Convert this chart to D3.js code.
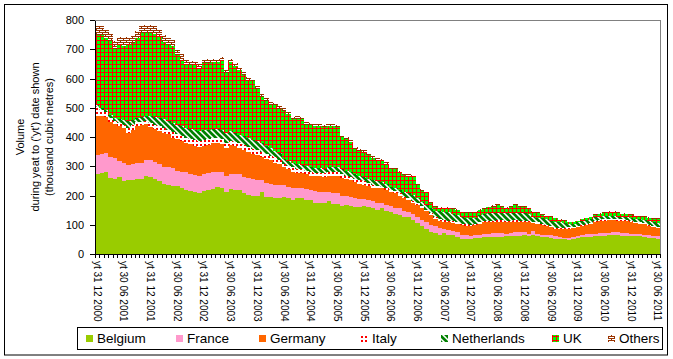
<!DOCTYPE html>
<html><head><meta charset="utf-8">
<script src="https://cdn.jsdelivr.net/npm/d3@7"></script>
<style>body{margin:0;background:#fff}svg text{font-family:"Liberation Sans",Arial,sans-serif;fill:#000}</style>
</head><body><svg id="c" width="673" height="359"></svg>
<script>
const seriesNames = ["Belgium","France","Germany","Italy","Netherlands","UK","Others"];
const belgium = [272,276,281,260,256,264,250,254,254,256,256,265,263,258,249,241,237,234,231,224,220,215,212,210,214,220,223,228,226,212,222,220,218,208,202,200,197,212,196,195,192,193,196,190,185,192,192,186,184,176,174,175,182,172,171,163,168,165,160,160,163,162,157,152,156,146,145,136,135,128,126,116,105,96,84,76,73,66,71,65,64,58,52,50,50,54,56,57,58,58,59,59,60,61,62,63,64,60,64,60,58,57,56,52,52,50,49,50,54,57,58,59,62,63,63,64,65,65,62,62,61,60,60,57,55,54,52];
const france = [66,65,65,73,72,54,61,51,54,56,56,57,57,58,57,58,59,59,54,57,60,59,58,58,58,56,57,54,55,53,52,52,54,54,58,58,57,40,48,45,44,44,40,38,40,34,33,36,34,38,38,38,30,38,38,37,29,31,30,28,25,24,23,24,19,20,19,22,21,18,16,20,23,20,24,24,22,24,13,17,16,16,14,14,13,10,10,11,12,14,14,14,10,10,14,13,11,8,15,8,7,8,8,8,7,6,6,7,8,9,9,9,8,9,9,9,9,9,9,9,9,9,8,9,9,9,9];
const germany = [135,132,124,119,115,118,121,109,116,125,129,121,113,110,116,114,114,105,107,105,100,101,100,98,98,98,98,98,96,97,98,96,90,93,88,84,84,81,82,80,76,69,60,62,57,52,51,50,50,52,53,51,54,58,57,60,59,56,56,52,48,46,46,48,49,52,49,52,44,44,42,40,40,42,38,32,25,24,26,26,27,30,34,33,33,34,38,40,40,38,38,38,40,39,35,34,35,40,27,36,35,31,28,26,26,30,32,31,30,30,32,34,38,40,42,42,41,40,43,42,40,37,36,36,32,30,29];
const italy = [31,21,14,14,13,12,9,18,16,13,11,10,15,16,16,17,15,20,18,18,18,18,20,20,19,18,17,16,17,18,16,16,16,17,18,18,17,17,16,16,18,16,12,12,14,14,14,12,12,12,11,12,14,14,14,14,12,12,12,12,12,12,11,10,6,6,6,6,7,6,6,6,7,7,6,8,6,6,6,6,6,6,4,4,4,4,4,4,4,4,4,4,4,4,4,4,4,4,4,4,4,4,4,4,4,4,4,4,4,4,4,4,4,4,4,4,4,4,4,4,4,4,4,4,4,4,4];
const netherlands = [6,6,8,10,10,12,16,23,18,15,18,19,24,28,28,30,30,30,31,32,32,34,34,36,35,33,31,30,31,32,32,30,30,31,30,30,30,28,28,28,22,22,18,16,14,14,14,16,16,16,17,16,16,17,18,16,16,16,14,14,16,14,16,16,17,14,11,10,13,17,20,20,15,13,15,16,22,26,28,28,25,24,24,23,22,22,24,26,26,26,26,25,25,25,25,25,25,25,18,16,18,18,16,20,19,15,13,12,12,12,13,14,14,12,11,11,11,10,9,9,10,11,11,11,12,12,12];
const uk = [240,248,247,251,236,257,255,263,262,272,284,284,285,283,278,266,260,263,241,227,219,218,224,214,228,229,231,229,237,207,235,229,222,208,199,200,180,159,153,147,156,153,164,161,152,157,157,142,145,144,143,143,143,138,135,110,110,104,88,86,85,81,75,71,73,70,61,63,60,56,58,63,45,39,46,18,13,12,13,14,16,17,15,16,18,21,20,17,19,22,25,21,19,20,26,23,20,21,16,17,11,12,15,14,8,7,5,4,4,6,6,6,7,9,10,13,14,13,10,10,11,10,9,10,11,12,13];
const others = [28,30,28,26,25,24,25,24,25,26,26,27,26,25,24,24,23,22,20,20,18,16,12,12,12,12,11,11,12,10,11,11,10,10,10,10,9,9,9,9,9,8,8,8,8,8,8,8,7,7,7,7,7,7,7,7,6,6,6,6,6,6,6,6,5,5,5,5,5,5,5,5,5,4,4,4,4,4,4,4,4,4,3,3,3,3,3,3,3,4,4,4,4,4,4,4,4,4,3,3,3,3,3,3,3,3,2,2,2,2,2,2,3,3,3,3,3,3,3,3,3,3,3,3,3,3,3];
const tickLabels = ["yt 31 12 2000","yt 30 06 2001","yt 31 12 2001","yt 30 06 2002","yt 31 12 2002","yt 30 06 2003","yt 31 12 2003","yt 30 06 2004","yt 31 12 2004","yt 30 06 2005","yt 31 12 2005","yt 30 06 2006","yt 31 12 2006","yt 30 06 2007","yt 31 12 2007","yt 30 06 2008","yt 31 12 2008","yt 30 06 2009","yt 31 12 2009","yt 30 06 2010","yt 31 12 2010","yt 30 06 2011"];
const yTicks = [0,100,200,300,400,500,600,700,800];
const yTitle = ["Volume","during yeat to ('yt') date shown","(thousand cubic metres)"];

const svg = d3.select("#c");
const L = 95, R = 660, T = 20, B = 254;
const n = belgium.length;
const x = d3.scaleBand().domain(d3.range(n)).range([L, R]).padding(0);
const y = d3.scaleLinear().domain([0, 800]).range([B, T]);
const bw = x.bandwidth();

// patterns
const defs = svg.append("defs");
const pI = defs.append("pattern").attr("id","pItaly").attr("width",4).attr("height",4).attr("patternUnits","userSpaceOnUse");
pI.append("rect").attr("width",4).attr("height",4).attr("fill","#fff");
pI.append("rect").attr("width",2).attr("height",2).attr("fill","#f00");
const pN = defs.append("pattern").attr("id","pNeth").attr("width",6).attr("height",6).attr("patternUnits","userSpaceOnUse");
pN.append("rect").attr("width",6).attr("height",6).attr("fill","#fff");
pN.append("path").attr("fill","#008000").attr("d","M0,0L1.9,0L6,4.1L6,6L4.1,6L0,1.9Z M4.1,0L6,0L6,1.9Z M0,4.1L0,6L1.9,6Z");
const pU = defs.append("pattern").attr("id","pUK").attr("width",4).attr("height",4).attr("patternUnits","userSpaceOnUse");
pU.append("rect").attr("width",4).attr("height",4).attr("fill","#00ff00");
pU.append("rect").attr("width",4).attr("height",1).attr("fill","#f00");
pU.append("rect").attr("width",1).attr("height",4).attr("fill","#f00");
const pO = defs.append("pattern").attr("id","pOth").attr("width",6).attr("height",4).attr("patternUnits","userSpaceOnUse");
pO.append("rect").attr("width",6).attr("height",4).attr("fill","#fff");
pO.append("rect").attr("y",0).attr("width",6).attr("height",1).attr("fill","#993300");
pO.append("rect").attr("y",2).attr("width",6).attr("height",1).attr("fill","#993300");
pO.append("rect").attr("x",0).attr("y",1).attr("width",1).attr("height",1).attr("fill","#993300");
pO.append("rect").attr("x",3).attr("y",3).attr("width",1).attr("height",1).attr("fill","#993300");

const fills = {Belgium:"#99cc00",France:"#ff99cc",Germany:"#ff6600",Italy:"url(#pItaly)",Netherlands:"url(#pNeth)",UK:"url(#pUK)",Others:"url(#pOth)"};
const dataArr = {Belgium:belgium,France:france,Germany:germany,Italy:italy,Netherlands:netherlands,UK:uk,Others:others};

// outer border
svg.append("rect").attr("x",4.5).attr("y",4.5).attr("width",663).attr("height",350.5).attr("fill","#fff").attr("stroke","#000").attr("stroke-width",1);

const rows = d3.range(n).map(i => { const o = {i}; seriesNames.forEach(k => o[k] = dataArr[k][i]); return o; });
const stacked = d3.stack().keys(seriesNames)(rows);

svg.append("g").attr("shape-rendering","crispEdges").selectAll("g").data(stacked).join("g")
  .attr("fill", d => fills[d.key])
  .selectAll("rect").data(d => d).join("rect")
  .attr("x", d => x(d.data.i))
  .attr("width", bw + 0.2)
  .attr("y", d => y(d[1]))
  .attr("height", d => Math.max(0, y(d[0]) - y(d[1])));

// plot border (gray top/right)
svg.append("path").attr("d",`M${L},${T+0.5}H${R+0.5}V${B}`).attr("fill","none").attr("stroke","#808080").attr("shape-rendering","crispEdges");

// y axis
const ya = svg.append("g").attr("transform",`translate(${L},0)`)
  .call(d3.axisLeft(y).tickValues(yTicks).tickSize(5).tickPadding(6).tickSizeOuter(0));
ya.selectAll("text").attr("font-size","11px").attr("font-family","Liberation Sans, Arial, sans-serif");
ya.selectAll("line,path").attr("stroke","#000").attr("shape-rendering","crispEdges");

// x axis
const xb = d3.scaleLinear().domain([0, n]).range([L, R]);
const xa = svg.append("g").attr("transform",`translate(0,${B})`)
  .call(d3.axisBottom(xb).tickValues(d3.range(n+1)).tickSize(4).tickSizeOuter(0).tickFormat(""));
xa.selectAll("line,path").attr("stroke","#000").attr("shape-rendering","crispEdges");

svg.append("g").selectAll("text").data(tickLabels).join("text")
  .attr("transform",(d,k) => `translate(${x(k*6) + bw/2},261) rotate(90)`)
  .attr("dy","0.35em").attr("font-size","10px").attr("text-anchor","start")
  .text(d => d);

// y title
const tx = [20, 35, 49];
svg.append("g").selectAll("text").data(yTitle).join("text")
  .attr("transform",(d,k) => `translate(${tx[k]},137) rotate(-90)`)
  .attr("text-anchor","middle").attr("dy","0.35em").attr("font-size","11px")
  .text(d => d);

// legend
svg.append("rect").attr("x",77.5).attr("y",327.5).attr("width",585).attr("height",22).attr("fill","#fff").attr("stroke","#000").attr("shape-rendering","crispEdges");
const lgX = [86, 176, 259, 361, 441, 552, 608];
const lg = svg.append("g").selectAll("g").data(seriesNames).join("g")
  .attr("transform",(d,k) => `translate(${lgX[k]},0)`);
lg.append("rect").attr("x",0).attr("y",335).attr("width",7).attr("height",7).attr("fill", d => fills[d]).attr("shape-rendering","crispEdges");
lg.append("text").attr("x",11).attr("y",338.5).attr("dy","0.35em").attr("font-size","13.5px").text(d => d);
</script></body></html>
